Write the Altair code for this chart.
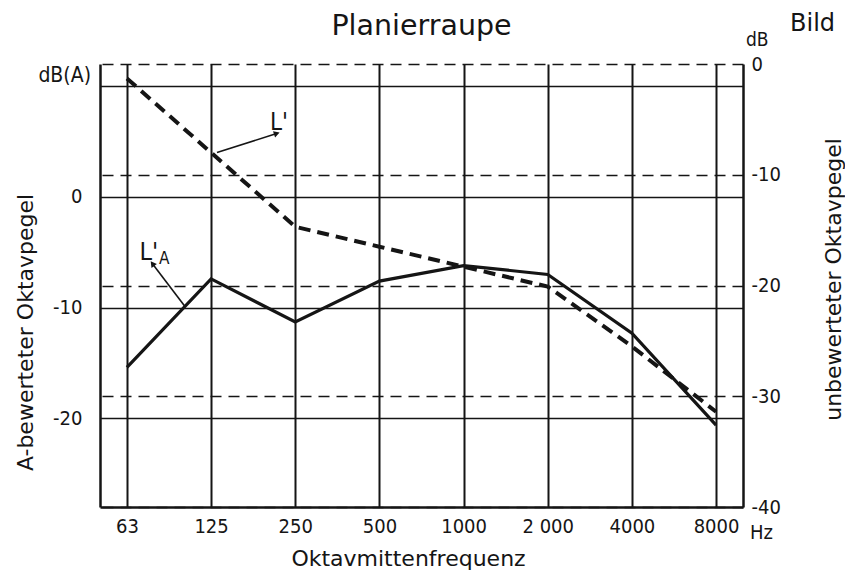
import altair as alt
import pandas as pd

# ---------------- data ----------------
freq_labels = ["63", "125", "250", "500", "1000", "2 000", "4000", "8000"]
la_values = [-15.4, -7.4, -11.3, -7.6, -6.2, -7.0, -12.3, -20.6]   # L'A  (left axis, dB(A))
l_values = [-1.3, -8.0, -14.7, -16.5, -18.3, -20.1, -25.5, -31.4]  # L'   (right axis, dB)

left_ticks = [10, 0, -10, -20]
right_ticks = [0, -10, -20, -30, -40]
left_domain = [-28, 12]
right_domain = [-40, 0]

# annotation arrows (x in octave index units, y in the respective axis units)
la_arrow_x, la_arrow_y, la_arrow_x2, la_arrow_y2 = [0.69], [-9.9], [0.31], [-6.1]
l_arrow_x, l_arrow_y, l_arrow_x2, l_arrow_y2 = [1.07], [-8.0], [1.77], [-6.3]

INK = "#151515"
FONT = "DejaVu Sans Condensed"
TFONT = "DejaVu Sans"

df = pd.DataFrame({"idx": list(range(len(freq_labels))), "freq": freq_labels,
                   "LA": la_values, "L": l_values})
la_arrow = pd.DataFrame({"x": la_arrow_x, "y": la_arrow_y, "x2": la_arrow_x2, "y2": la_arrow_y2})
l_arrow = pd.DataFrame({"x": l_arrow_x, "y": l_arrow_y, "x2": l_arrow_x2, "y2": l_arrow_y2})
la_label = pd.DataFrame({"x": [0.15], "y": [-5.0], "t": ["L'"]})
la_sub = pd.DataFrame({"x": [0.38], "y": [-5.6], "t": ["A"]})
l_label = pd.DataFrame({"x": [1.70], "y": [-5.3], "t": ["L'"]})

label_array = "[" + ",".join("'" + f + "'" for f in freq_labels) + "]"

x_scale = alt.Scale(domain=[-0.32, 7.32], nice=False, zero=False)
x_axis = alt.Axis(values=list(range(len(freq_labels))), labelExpr=label_array + "[datum.value]",
                  grid=True, gridColor=INK, gridWidth=2, gridOpacity=1, ticks=False,
                  domain=True, domainColor=INK, domainWidth=2.5, labelPadding=9,
                  labelFontSize=20, labelColor=INK, labelFont=FONT,
                  title="Oktavmittenfrequenz", titleX=308, titleY=58, titleFontSize=22,
                  titleFontWeight="normal", titleBaseline="alphabetic", titleColor=INK,
                  titleFont=TFONT)


def xq(field):
    return alt.X(field + ":Q", scale=x_scale, axis=x_axis)


left_scale = alt.Scale(domain=left_domain, nice=False, zero=False)
left_axis = alt.Axis(values=left_ticks, orient="left",
                     labelExpr="datum.value == 10 ? '' : (datum.value < 0 ? '-' + abs(datum.value) : datum.label)",
                     grid=True, gridColor=INK, gridWidth=1.4, gridOpacity=1, ticks=False,
                     domain=True, domainColor=INK, domainWidth=2.5, labelPadding=18,
                     labelFontSize=20, labelColor=INK, labelFont=FONT,
                     title="A-bewerteter Oktavpegel", titleAngle=270, titleX=-75, titleY=268,
                     titleFontSize=22, titleFontWeight="normal", titleBaseline="middle",
                     titleColor=INK, titleFont=TFONT)

right_scale = alt.Scale(domain=right_domain, nice=False, zero=False)
right_axis = alt.Axis(values=right_ticks, orient="right",
                      labelExpr="datum.value < 0 ? '-' + abs(datum.value) : '\u00a0' + datum.label",
                      grid=True, gridColor=INK, gridWidth=1.5, gridOpacity=1, gridDash=[11, 7],
                      ticks=False, domain=True, domainColor=INK, domainWidth=2.5, labelPadding=8,
                      labelFontSize=20, labelColor=INK, labelFont=FONT,
                      title="unbewerteter Oktavpegel", titleAngle=270, titleX=97, titleY=215,
                      titleFontSize=22, titleFontWeight="normal", titleBaseline="alphabetic",
                      titleColor=INK, titleFont=TFONT)


def yl(field):
    return alt.Y(field + ":Q", scale=left_scale, axis=left_axis)


def yr(field):
    return alt.Y(field + ":Q", scale=right_scale, axis=right_axis)


# ---------------- left (A-weighted) group ----------------
la_line = alt.Chart(df).mark_line(color=INK, strokeWidth=3.2).encode(x=xq("idx"), y=yl("LA"))
la_arrow_rule = alt.Chart(la_arrow).mark_rule(color=INK, strokeWidth=1.6).encode(
    x=xq("x"), y=yl("y"), x2="x2:Q", y2="y2:Q")
la_head = alt.Chart(la_arrow).mark_point(shape="triangle", filled=True, color=INK, size=45,
                                         opacity=1, angle=323).encode(x=xq("x2"), y=yl("y2"))
la_text = alt.Chart(la_label).mark_text(font=FONT, fontSize=25, color=INK, align="left",
                                        baseline="middle").encode(x=xq("x"), y=yl("y"), text="t:N")
la_sub_text = alt.Chart(la_sub).mark_text(font=FONT, fontSize=17, color=INK, align="left",
                                          baseline="middle").encode(x=xq("x"), y=yl("y"), text="t:N")
left_group = alt.layer(la_line, la_arrow_rule, la_head, la_text, la_sub_text)

# ---------------- right (unweighted) group ----------------
l_line = alt.Chart(df).mark_line(color=INK, strokeWidth=4, strokeDash=[12, 7]).encode(
    x=xq("idx"), y=yr("L"))
l_arrow_rule = alt.Chart(l_arrow).mark_rule(color=INK, strokeWidth=1.6).encode(
    x=xq("x"), y=yr("y"), x2="x2:Q", y2="y2:Q")
l_head = alt.Chart(l_arrow).mark_point(shape="triangle", filled=True, color=INK, size=45,
                                       opacity=1, angle=72).encode(x=xq("x2"), y=yr("y2"))
l_text = alt.Chart(l_label).mark_text(font=FONT, fontSize=24, color=INK, align="left",
                                      baseline="middle").encode(x=xq("x"), y=yr("y"), text="t:N")
right_group = alt.layer(l_line, l_arrow_rule, l_head, l_text)

# ---------------- title and unit labels ----------------
deco_df = pd.DataFrame({"t": ["Planierraupe", "dB(A)", "dB", "Hz", "Bild"]})


def deco(text, x, y, size, align="left", baseline="middle", font=FONT):
    return alt.Chart(deco_df).transform_filter(f"datum.t == '{text}'").mark_text(
        font=font, fontSize=size, color=INK, align=align, baseline=baseline).encode(
        x=alt.value(x), y=alt.value(y), text="t:N")


title = deco("Planierraupe", 321.5, -29, 28.5, align="center", baseline="alphabetic", font=TFONT)
dba = deco("dB(A)", -9, 12, 21, align="right")
db = deco("dB", 646, -24, 19)
hz = deco("Hz", 650, 469, 20)
bild = deco("Bild", 690, -33, 24, baseline="alphabetic", font=TFONT)

chart = alt.layer(left_group, right_group, title, dba, db, hz, bild).resolve_scale(
    y="independent"
).properties(
    width=643, height=443,
    autosize=alt.AutoSizeParams(type="none"),
    padding={"left": 92, "top": 56, "right": 102, "bottom": 63},
    background="white",
).configure_view(strokeWidth=0)

chart.save("out.html", embed_options={"renderer": "svg", "actions": False})
